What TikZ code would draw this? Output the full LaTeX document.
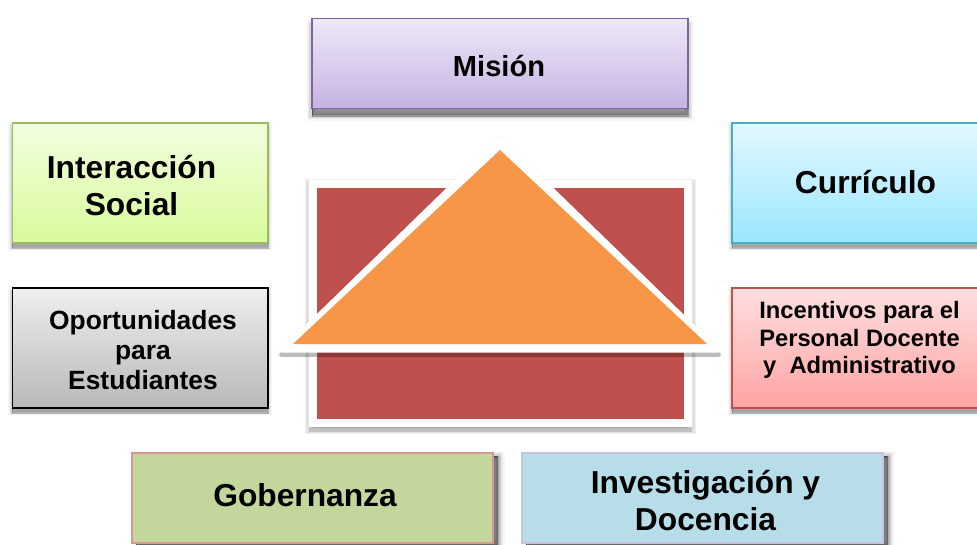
\documentclass[tikz,border=0pt]{standalone}
\usepackage{fontspec}
\setmainfont{Liberation Sans}
\definecolor{mA}{HTML}{EEE8F7}\definecolor{mB}{HTML}{C6B3E3}\definecolor{mL}{HTML}{8064A2}
\definecolor{gA}{HTML}{F2FFDF}\definecolor{gB}{HTML}{D8FA9C}\definecolor{gL}{HTML}{9BBB59}
\definecolor{kA}{HTML}{EFEFEF}\definecolor{kB}{HTML}{B8B8B8}
\definecolor{cA}{HTML}{E3F8FF}\definecolor{cB}{HTML}{9BE6FF}\definecolor{cL}{HTML}{4BACC6}
\definecolor{pA}{HTML}{FFDFDF}\definecolor{pB}{HTML}{FFA3A3}\definecolor{pL}{HTML}{C0504D}
\definecolor{oF}{HTML}{C3D69B}\definecolor{oL}{HTML}{D99694}
\definecolor{iF}{HTML}{B7DDE8}\definecolor{iL}{HTML}{CCC1DA}
\definecolor{houseF}{HTML}{C0504D}\definecolor{roofF}{HTML}{F79646}
\tikzset{
  x=0.75pt,y=-0.75pt,
  % one layer of a blurred shadow: {line width}{opacity}{xshift}{yshift}
  shlayer/.style n args={4}{preaction={draw=black,fill=black,line width=#1,
     draw opacity=#2,fill opacity=#2,transform canvas={xshift=#3,yshift=#4}}},
  softshadow/.style={
    shlayer={6pt}{.03}{0pt}{-2.5pt},
    shlayer={4.5pt}{.04}{0pt}{-3pt},
    shlayer={3pt}{.05}{0pt}{-3.2pt},
    shlayer={1.5pt}{.06}{0pt}{-3.4pt},
    shlayer={0.1pt}{.12}{0pt}{-3.6pt}},
  hardshadow/.style={
    shlayer={8pt}{.03}{0pt}{-5pt},
    shlayer={6pt}{.05}{0pt}{-5pt},
    shlayer={4pt}{.07}{0pt}{-5pt},
    shlayer={0.1pt}{.3}{0pt}{-5.6pt}},
  sideshadow/.style={
    shlayer={6pt}{.03}{6pt}{-2pt},
    shlayer={5pt}{.05}{5pt}{-2pt},
    shlayer={3pt}{.1}{4.5pt}{-2pt},
    shlayer={0.1pt}{.4}{3pt}{-2pt}},
  wallshadow/.style={
    shlayer={12pt}{.06}{0pt}{-2pt},
    shlayer={10pt}{.06}{0pt}{-2.5pt},
    shlayer={6.3pt}{.14}{0pt}{-4pt}},
  roofshadow/.style={
    shlayer={3pt}{.015}{0pt}{0pt},
    shlayer={2pt}{.05}{0pt}{-2.5pt},
    shlayer={0.1pt}{.2}{0pt}{-3pt}},
  panel/.style n args={2}{rectangle,inner sep=0pt,line width=1pt,
    minimum width=#1*0.75pt,minimum height=#2*0.75pt},
  lblA/.style={font=\bfseries\fontsize{21.8pt}{26pt}\selectfont,text=black,align=center,inner sep=0pt},
  lblB/.style={font=\bfseries\fontsize{23.8pt}{27.75pt}\selectfont,text=black,align=center,inner sep=0pt},
  lblC/.style={font=\bfseries\fontsize{19.8pt}{22.5pt}\selectfont,text=black,align=center,inner sep=0pt},
  lblD/.style={font=\bfseries\fontsize{17.8pt}{20.6pt}\selectfont,text=black,align=center,inner sep=0pt},
  wall/.style={rectangle,inner sep=0pt,fill=houseF,draw=white,line width=6.2pt},
  roof/.style={fill=roofF,draw=none},
  roofedge/.style={fill=white,draw=none,rounded corners=4pt},
}
\begin{document}
\begin{tikzpicture}
\useasboundingbox (0,0) rectangle (977,544);
\fill[white] (0,0) rectangle (977,544);
% boxes
\node[panel={376}{90},hardshadow,top color=mA,bottom color=mB,draw=mL] (mision) at (500,63.5) {};
\node[panel={255.5}{120},softshadow,top color=gA,bottom color=gB,draw=gL] (inter) at (140.2,183) {};
\node[panel={255.5}{120},softshadow,top color=kA,bottom color=kB,draw=black] (oport) at (140.2,348) {};
\node[panel={255}{120},softshadow,top color=cA,bottom color=cB,draw=cL] (curric) at (859.5,183) {};
\node[panel={255}{120},softshadow,top color=pA,bottom color=pB,draw=pL] (incent) at (859.5,348) {};
\node[panel={361}{90},sideshadow,fill=oF,draw=oL] (gober) at (312.5,498) {};
\node[panel={361}{90},sideshadow,fill=iF,draw=iL] (inves) at (702.5,498) {};
% house
\node[wall,wallshadow,minimum width=281.2pt,minimum height=179pt] (house) at (500.5,303.5) {};
\path[roofedge,roofshadow] (277,352.7) -- (500,136) -- (723,352.7) -- cycle;
\path[roof] (293,344) -- (500,150) -- (707,344) -- cycle;
% labels
\node[lblA] at (499,66) {Misión};
\node[lblB] at (131.5,185.5) {Interacción\\Social};
\node[lblC] at (143,350) {Oportunidades\\para\\Estudiantes};
\node[lblB] at (865.5,182) {Currículo};
\node[lblD] at (859.5,340) {Incentivos para el\\Personal Docente\\y~~Administrativo};
\node[lblB] at (305,495) {Gobernanza};
\node[lblB] at (705.5,500.5) {Investigación y\\Docencia};
\end{tikzpicture}
\end{document}
